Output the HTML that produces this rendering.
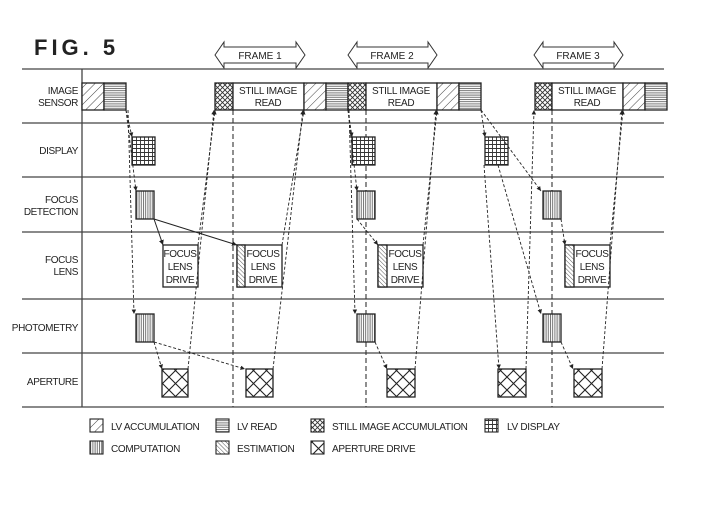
<!DOCTYPE html>
<html><head><meta charset="utf-8"><style>
html,body{margin:0;padding:0;background:#fff;}
svg{display:block;}
text{font-family:"Liberation Sans",sans-serif;fill:#222;}
</style></head><body>
<svg width="703" height="507" viewBox="0 0 703 507" xmlns="http://www.w3.org/2000/svg">
<defs>
<pattern id="diag" width="6" height="6" patternUnits="userSpaceOnUse" patternTransform="rotate(45)"><rect width="6" height="6" fill="#fff"/><line x1="0" y1="0" x2="0" y2="6" stroke="#444" stroke-width="1"/></pattern>
<pattern id="est" width="3" height="3" patternUnits="userSpaceOnUse" patternTransform="rotate(-45)"><rect width="3" height="3" fill="#fff"/><line x1="0" y1="0" x2="0" y2="3" stroke="#444" stroke-width="0.9"/></pattern>
<pattern id="hor" width="3" height="2.2" patternUnits="userSpaceOnUse"><rect width="3" height="2.2" fill="#fff"/><line x1="0" y1="0.5" x2="3" y2="0.5" stroke="#666" stroke-width="0.9"/></pattern>
<pattern id="ver" width="2.2" height="3" patternUnits="userSpaceOnUse"><rect width="2.2" height="3" fill="#fff"/><line x1="0.5" y1="0" x2="0.5" y2="3" stroke="#666" stroke-width="0.9"/></pattern>
<pattern id="grid" width="4" height="4" patternUnits="userSpaceOnUse"><rect width="4" height="4" fill="#fff"/><path d="M0 0.5H4M0.5 0V4" stroke="#333" stroke-width="0.9"/></pattern>
<pattern id="xh" width="5" height="5" patternUnits="userSpaceOnUse"><rect width="5" height="5" fill="#fff"/><path d="M0 0L5 5M5 0L0 5" stroke="#333" stroke-width="0.9"/></pattern>
<pattern id="ap" width="13" height="13" patternUnits="userSpaceOnUse"><rect width="13" height="13" fill="#fff"/><path d="M0 0L13 13M13 0L0 13" stroke="#222" stroke-width="1.1"/></pattern>
<marker id="ah" markerWidth="6" markerHeight="6" refX="5" refY="3" orient="auto"><path d="M0 0.5L5 3L0 5.5z" fill="#222"/></marker>
</defs>

<text x="34" y="55" font-size="22" font-weight="bold" letter-spacing="4" fill="#222">FIG. 5</text>

<g fill="#fff" stroke="#333" stroke-width="1">
<path d="M215 55L224 42V47H296V42L305 55L296 68V63H224V68Z"/>
<path d="M348 55L357 42V47H428V42L437 55L428 68V63H357V68Z"/>
<path d="M534 55L543 42V47H614V42L623 55L614 68V63H543V68Z"/>
</g>
<g font-size="10" text-anchor="middle">
<text x="260" y="59">FRAME 1</text><text x="392" y="59">FRAME 2</text><text x="578" y="59">FRAME 3</text>
</g>

<g stroke="#444" stroke-width="1.3">
<line x1="22" y1="69" x2="664" y2="69"/><line x1="22" y1="123" x2="664" y2="123"/>
<line x1="22" y1="177" x2="664" y2="177"/><line x1="22" y1="232" x2="664" y2="232"/>
<line x1="22" y1="299" x2="664" y2="299"/><line x1="22" y1="353" x2="664" y2="353"/>
<line x1="22" y1="407" x2="664" y2="407"/>
<line x1="82" y1="69" x2="82" y2="407"/>
</g>

<g font-size="10" text-anchor="end" letter-spacing="-0.4">
<text x="78" y="94">IMAGE</text><text x="78" y="106">SENSOR</text>
<text x="78" y="154">DISPLAY</text>
<text x="78" y="203">FOCUS</text><text x="78" y="215">DETECTION</text>
<text x="78" y="263">FOCUS</text><text x="78" y="275">LENS</text>
<text x="78" y="331">PHOTOMETRY</text>
<text x="78" y="385">APERTURE</text>
</g>

<g stroke="#333" stroke-width="1.1" stroke-dasharray="5,3">
<line x1="233" y1="110" x2="233" y2="407"/><line x1="366" y1="110" x2="366" y2="407"/><line x1="552" y1="110" x2="552" y2="407"/>
</g>

<g stroke="#222" stroke-width="1.3">
<rect x="82" y="83" width="22" height="27" fill="url(#diag)"/><rect x="104" y="83" width="22" height="27" fill="url(#hor)"/>
<rect x="215" y="83" width="18" height="27" fill="url(#xh)"/><rect x="233" y="83" width="71" height="27" fill="#fff"/>
<rect x="304" y="83" width="22" height="27" fill="url(#diag)"/><rect x="326" y="83" width="22" height="27" fill="url(#hor)"/>
<rect x="348" y="83" width="18" height="27" fill="url(#xh)"/><rect x="366" y="83" width="71" height="27" fill="#fff"/>
<rect x="437" y="83" width="22" height="27" fill="url(#diag)"/><rect x="459" y="83" width="22" height="27" fill="url(#hor)"/>
<rect x="535" y="83" width="17" height="27" fill="url(#xh)"/><rect x="552" y="83" width="71" height="27" fill="#fff"/>
<rect x="623" y="83" width="22" height="27" fill="url(#diag)"/><rect x="645" y="83" width="22" height="27" fill="url(#hor)"/>
</g>
<g font-size="10" text-anchor="middle" letter-spacing="-0.3">
<text x="268" y="94">STILL IMAGE</text><text x="268" y="106">READ</text>
<text x="401" y="94">STILL IMAGE</text><text x="401" y="106">READ</text>
<text x="587" y="94">STILL IMAGE</text><text x="587" y="106">READ</text>
</g>

<g stroke="#222" stroke-width="1.3">
<rect x="132" y="137" width="23" height="28" fill="url(#grid)"/>
<rect x="352" y="137" width="23" height="28" fill="url(#grid)"/>
<rect x="485" y="137" width="23" height="28" fill="url(#grid)"/>
<rect x="136" y="191" width="18" height="28" fill="url(#ver)"/>
<rect x="357" y="191" width="18" height="28" fill="url(#ver)"/>
<rect x="543" y="191" width="18" height="28" fill="url(#ver)"/>
<rect x="136" y="314" width="18" height="28" fill="url(#ver)"/>
<rect x="357" y="314" width="18" height="28" fill="url(#ver)"/>
<rect x="543" y="314" width="18" height="28" fill="url(#ver)"/>
<rect x="163" y="245" width="35" height="42" fill="#fff"/>
<rect x="237" y="245" width="45" height="42" fill="#fff"/><rect x="237" y="245" width="8" height="42" fill="url(#est)"/>
<rect x="378" y="245" width="45" height="42" fill="#fff"/><rect x="378" y="245" width="9" height="42" fill="url(#est)"/>
<rect x="565" y="245" width="45" height="42" fill="#fff"/><rect x="565" y="245" width="9" height="42" fill="url(#est)"/>
<rect x="162" y="369" width="26" height="28" fill="url(#ap)"/>
<rect x="246" y="369" width="27" height="28" fill="url(#ap)"/>
<rect x="387" y="369" width="28" height="28" fill="url(#ap)"/>
<rect x="498" y="369" width="28" height="28" fill="url(#ap)"/>
<rect x="574" y="369" width="28" height="28" fill="url(#ap)"/>
</g>
<g font-size="10" text-anchor="middle" letter-spacing="-0.4">
<text x="180" y="257">FOCUS</text><text x="180" y="270">LENS</text><text x="180" y="283">DRIVE</text>
<text x="263" y="257">FOCUS</text><text x="263" y="270">LENS</text><text x="263" y="283">DRIVE</text>
<text x="405" y="257">FOCUS</text><text x="405" y="270">LENS</text><text x="405" y="283">DRIVE</text>
<text x="592" y="257">FOCUS</text><text x="592" y="270">LENS</text><text x="592" y="283">DRIVE</text>
</g>

<g stroke="#222" stroke-width="0.9" fill="none" stroke-dasharray="3,2" marker-end="url(#ah)">
<line x1="126" y1="110" x2="132" y2="137"/>
<line x1="126" y1="110" x2="136" y2="191"/>
<line x1="128" y1="110" x2="134" y2="314"/>
<line x1="154" y1="342" x2="162" y2="369"/>
<line x1="154" y1="342" x2="245" y2="369"/>
<line x1="198" y1="245" x2="215" y2="110"/>
<line x1="188" y1="369" x2="214" y2="110"/>
<line x1="282" y1="245" x2="304" y2="110"/>
<line x1="273" y1="369" x2="303" y2="110"/>
<line x1="348" y1="110" x2="352" y2="137"/>
<line x1="348" y1="110" x2="357" y2="191"/>
<line x1="349" y1="110" x2="355" y2="314"/>
<line x1="357" y1="219" x2="378" y2="245"/>
<line x1="375" y1="342" x2="387" y2="369"/>
<line x1="423" y1="245" x2="437" y2="110"/>
<line x1="415" y1="369" x2="436" y2="110"/>
<line x1="481" y1="110" x2="485" y2="137"/>
<line x1="481" y1="110" x2="541" y2="191"/>
<line x1="484" y1="165" x2="499" y2="369"/>
<line x1="498" y1="165" x2="541" y2="314"/>
<line x1="561" y1="219" x2="565" y2="245"/>
<line x1="561" y1="342" x2="573" y2="369"/>
<line x1="526" y1="369" x2="534" y2="110"/>
<line x1="610" y1="245" x2="623" y2="110"/>
<line x1="602" y1="369" x2="622" y2="110"/>
</g>
<g stroke="#222" stroke-width="1" fill="none" marker-end="url(#ah)">
<line x1="154" y1="219" x2="163" y2="245"/>
<line x1="154" y1="219" x2="237" y2="245"/>
</g>

<g stroke="#222" stroke-width="1.1">
<rect x="90" y="419" width="13" height="13" fill="url(#diag)"/>
<rect x="216" y="419" width="13" height="13" fill="url(#hor)"/>
<rect x="311" y="419" width="13" height="13" fill="url(#xh)"/>
<rect x="485" y="419" width="13" height="13" fill="url(#grid)"/>
<rect x="90" y="441" width="13" height="13" fill="url(#ver)"/>
<rect x="216" y="441" width="13" height="13" fill="url(#est)"/>
<rect x="311" y="441" width="13" height="13" fill="url(#ap)"/>
</g>
<g font-size="10" letter-spacing="-0.3">
<text x="111" y="430">LV ACCUMULATION</text>
<text x="237" y="430">LV READ</text>
<text x="332" y="430">STILL IMAGE ACCUMULATION</text>
<text x="507" y="430">LV DISPLAY</text>
<text x="111" y="452">COMPUTATION</text>
<text x="237" y="452">ESTIMATION</text>
<text x="332" y="452">APERTURE DRIVE</text>
</g>
</svg>
</body></html>
